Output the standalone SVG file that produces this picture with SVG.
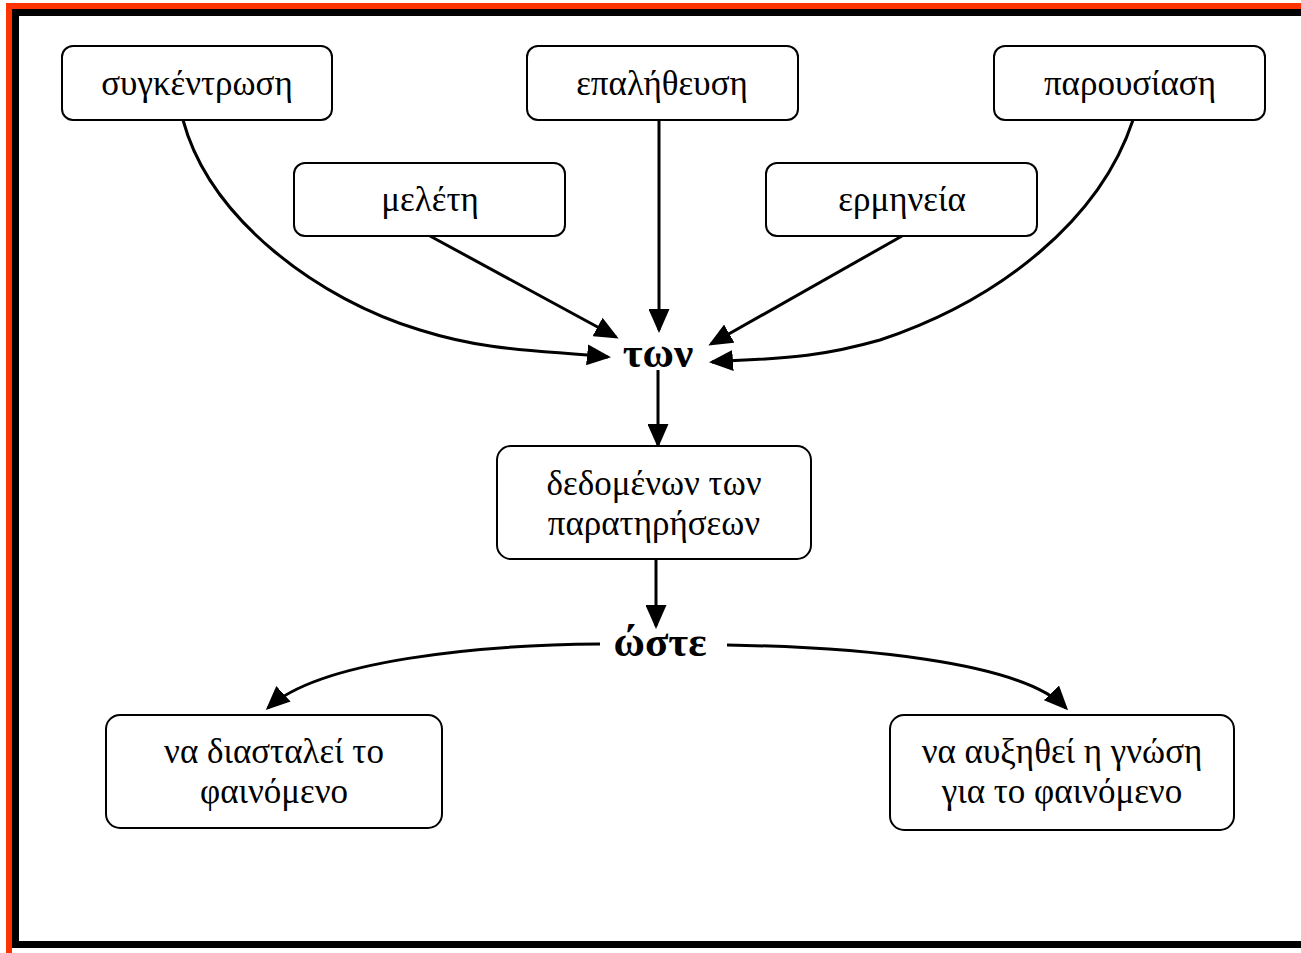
<svg xmlns="http://www.w3.org/2000/svg" width="1301" height="953" viewBox="0 0 1301 953">
<style>
.box{fill:#fff;stroke:#000;stroke-width:2}
.t{font-family:"Liberation Serif","Times New Roman",serif;font-size:35px;fill:#000;text-anchor:middle}
.b{font-family:"Liberation Serif","Times New Roman",serif;font-size:43px;font-weight:bold;fill:#000;text-anchor:middle}
.c{fill:none;stroke:#000;stroke-width:3;marker-end:url(#ah)}
</style>
<defs>
<marker id="ah" markerWidth="8" markerHeight="7" refX="7" refY="3.5" orient="auto" markerUnits="strokeWidth">
<path d="M0,0 L8,3.5 L0,7 z" fill="#000"/>
</marker>
</defs>
<rect width="1301" height="953" fill="#fff"/>
<g id="frame">
<rect x="6" y="3" width="1295" height="7" fill="#ff3300"/>
<rect x="6" y="3" width="6" height="950" fill="#ff3300"/>
<rect x="12" y="9" width="1289" height="7" fill="#000"/>
<rect x="12" y="9" width="7" height="939" fill="#000"/>
<rect x="12" y="941" width="1289" height="7" fill="#000"/>
</g>
<g id="connectors">
<path class="c" d="M659,120 L659,330"/>
<path class="c" d="M430,236 L616,337"/>
<path class="c" d="M902,236 L711,344"/>
<path class="c" d="M183,120 C210,220 320,300 420,330 C490,352 540,350 608,357"/>
<path class="c" d="M1133,120 C1100,220 1000,300 880,340 C810,360 770,358 712,362"/>
<path class="c" d="M658,370 L658,445"/>
<path class="c" d="M656,559 L656,626"/>
<path class="c" d="M600,644 C480,645 320,660 268,708"/>
<path class="c" d="M727,645 C850,647 1020,660 1066,708"/>
</g>
<g id="n1"><rect class="box" x="62" y="46" width="270" height="74" rx="11"/><text class="t" x="197" y="95">συγκέντρωση</text></g>
<g id="n2"><rect class="box" x="527" y="46" width="271" height="74" rx="11"/><text class="t" x="662" y="95">επαλήθευση</text></g>
<g id="n3"><rect class="box" x="994" y="46" width="271" height="74" rx="11"/><text class="t" x="1130" y="95">παρουσίαση</text></g>
<g id="n4"><rect class="box" x="294" y="163" width="271" height="73" rx="11"/><text class="t" x="430" y="211">μελέτη</text></g>
<g id="n5"><rect class="box" x="766" y="163" width="271" height="73" rx="11"/><text class="t" x="902" y="211">ερμηνεία</text></g>
<g id="n6"><text class="b" x="658" y="367">των</text></g>
<g id="n7"><rect class="box" x="497" y="446" width="314" height="113" rx="14"/><text class="t" x="654" y="495">δεδομένων των</text><text class="t" x="654" y="535">παρατηρήσεων</text></g>
<g id="n8"><text class="b" x="660" y="656">ώστε</text></g>
<g id="n9"><rect class="box" x="106" y="715" width="336" height="113" rx="14"/><text class="t" x="274" y="763">να διασταλεί το</text><text class="t" x="274" y="803">φαινόμενο</text></g>
<g id="n10"><rect class="box" x="890" y="715" width="344" height="115" rx="14"/><text class="t" x="1062" y="763">να αυξηθεί η γνώση</text><text class="t" x="1062" y="803">για το φαινόμενο</text></g>
</svg>
